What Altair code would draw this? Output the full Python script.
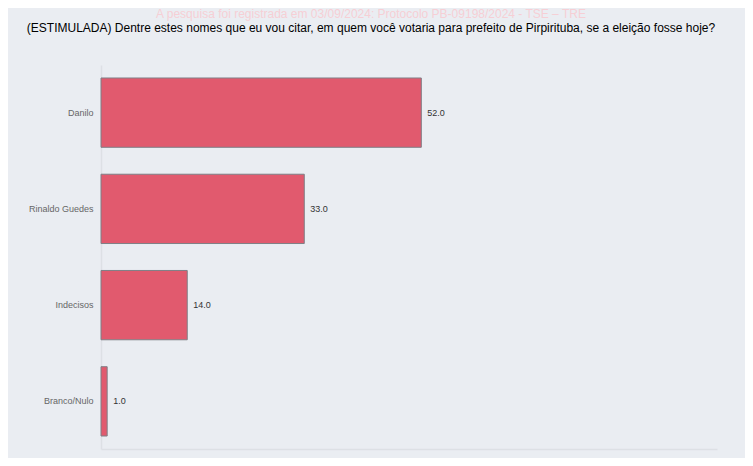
import altair as alt
import pandas as pd

categories = ["Danilo", "Rinaldo Guedes", "Indecisos", "Branco/Nulo"]
values = [52.0, 33.0, 14.0, 1.0]
nota = "A pesquisa foi registrada em 03/09/2024: Protocolo PB-09198/2024 - TSE – TRE"
pergunta = "(ESTIMULADA) Dentre estes nomes que eu vou citar, em quem você votaria para prefeito de Pirpirituba, se a eleição fosse hoje?"

df = pd.DataFrame({"nome": categories, "valor": values})
df["rotulo"] = df["valor"].map(lambda v: f"{v:.1f}")

base = alt.Chart(df).encode(
    y=alt.Y("nome:N", sort=categories,
            scale=alt.Scale(paddingInner=0.28, paddingOuter=0.135),
            axis=alt.Axis(title=None, ticks=False, labelPadding=8, labelFontSize=9,
                          labelColor="#666666", labelFont="Liberation Sans",
                          domainColor="#dde0e5", domainWidth=1.5, grid=False)),
    x=alt.X("valor:Q", scale=alt.Scale(domain=[0, 100], nice=False),
            axis=alt.Axis(title=None, labels=False, ticks=False, grid=False,
                          domainColor="#dde0e5", domainWidth=1.5)),
)

bars = base.mark_bar(color="#e15a6e", stroke="#7f7f86", strokeWidth=1)
labels = base.mark_text(align="left", dx=6, fontSize=9, color="#333333",
                        font="Liberation Sans").encode(text="rotulo:N")

nota_df = pd.DataFrame({"t": [nota]})
nota_mark = alt.Chart(nota_df).mark_text(
    align="center", baseline="middle", fontSize=12, color="#f6cfd5",
    font="Liberation Sans"
).encode(text="t:N", x=alt.value(270), y=alt.value(-51))

pergunta_df = pd.DataFrame({"t": [pergunta]})
pergunta_mark = alt.Chart(pergunta_df).mark_text(
    align="center", baseline="middle", fontSize=12, color="#000000",
    font="Liberation Sans"
).encode(text="t:N", x=alt.value(270), y=alt.value(-37))

chart = (bars + labels + nota_mark + pergunta_mark).properties(
    width=616,
    height=384,
    background="#eaedf2",
    autosize=alt.AutoSizeParams(type="none"),
    padding={"left": 93, "top": 57, "right": 28, "bottom": 9},
).configure_view(stroke=None, fill="#eaedf2")

chart.save("out.html", embed_options={"renderer": "svg", "actions": False})
